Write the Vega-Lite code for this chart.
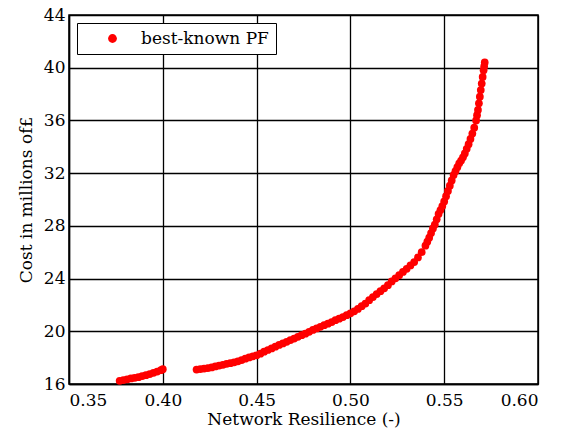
{
  "$schema": "https://vega.github.io/schema/vega-lite/v6.json",
  "width": 469,
  "height": 369,
  "autosize": {"type": "none"},
  "padding": {"left": 69, "top": 15, "right": 29, "bottom": 53},
  "background": "white",
  "config": {
    "font": "DejaVu Serif",
    "view": {"stroke": "black", "strokeWidth": 1.5},
    "axis": {
      "labelFont": "DejaVu Serif",
      "titleFont": "DejaVu Serif",
      "labelFontSize": 17,
      "titleFontSize": 17,
      "titleFontWeight": "normal",
      "labelColor": "black",
      "titleColor": "black",
      "domainColor": "black",
      "domainWidth": 1.5,
      "gridColor": "black",
      "gridWidth": 1.3,
      "gridOpacity": 1,
      "ticks": false
    },
    "legend": {
      "labelFont": "DejaVu Serif",
      "labelFontSize": 17,
      "labelColor": "black"
    }
  },
  "data": {
    "values": [
      {"r": 0.377, "c": 16.24, "s": "best-known PF"},
      {"r": 0.379, "c": 16.30, "s": "best-known PF"},
      {"r": 0.381, "c": 16.36, "s": "best-known PF"},
      {"r": 0.383, "c": 16.42, "s": "best-known PF"},
      {"r": 0.385, "c": 16.47, "s": "best-known PF"},
      {"r": 0.387, "c": 16.52, "s": "best-known PF"},
      {"r": 0.389, "c": 16.60, "s": "best-known PF"},
      {"r": 0.391, "c": 16.67, "s": "best-known PF"},
      {"r": 0.393, "c": 16.75, "s": "best-known PF"},
      {"r": 0.395, "c": 16.85, "s": "best-known PF"},
      {"r": 0.397, "c": 16.94, "s": "best-known PF"},
      {"r": 0.399, "c": 17.05, "s": "best-known PF"},
      {"r": 0.400, "c": 17.12, "s": "best-known PF"},
      {"r": 0.418, "c": 17.10, "s": "best-known PF"},
      {"r": 0.420, "c": 17.13, "s": "best-known PF"},
      {"r": 0.422, "c": 17.17, "s": "best-known PF"},
      {"r": 0.424, "c": 17.21, "s": "best-known PF"},
      {"r": 0.426, "c": 17.26, "s": "best-known PF"},
      {"r": 0.428, "c": 17.33, "s": "best-known PF"},
      {"r": 0.430, "c": 17.40, "s": "best-known PF"},
      {"r": 0.432, "c": 17.46, "s": "best-known PF"},
      {"r": 0.434, "c": 17.53, "s": "best-known PF"},
      {"r": 0.436, "c": 17.58, "s": "best-known PF"},
      {"r": 0.438, "c": 17.65, "s": "best-known PF"},
      {"r": 0.440, "c": 17.72, "s": "best-known PF"},
      {"r": 0.442, "c": 17.82, "s": "best-known PF"},
      {"r": 0.444, "c": 17.92, "s": "best-known PF"},
      {"r": 0.446, "c": 18.02, "s": "best-known PF"},
      {"r": 0.448, "c": 18.10, "s": "best-known PF"},
      {"r": 0.450, "c": 18.18, "s": "best-known PF"},
      {"r": 0.452, "c": 18.30, "s": "best-known PF"},
      {"r": 0.454, "c": 18.45, "s": "best-known PF"},
      {"r": 0.456, "c": 18.58, "s": "best-known PF"},
      {"r": 0.458, "c": 18.70, "s": "best-known PF"},
      {"r": 0.460, "c": 18.83, "s": "best-known PF"},
      {"r": 0.462, "c": 18.96, "s": "best-known PF"},
      {"r": 0.464, "c": 19.08, "s": "best-known PF"},
      {"r": 0.466, "c": 19.20, "s": "best-known PF"},
      {"r": 0.468, "c": 19.33, "s": "best-known PF"},
      {"r": 0.470, "c": 19.45, "s": "best-known PF"},
      {"r": 0.472, "c": 19.58, "s": "best-known PF"},
      {"r": 0.474, "c": 19.70, "s": "best-known PF"},
      {"r": 0.476, "c": 19.82, "s": "best-known PF"},
      {"r": 0.478, "c": 19.96, "s": "best-known PF"},
      {"r": 0.480, "c": 20.10, "s": "best-known PF"},
      {"r": 0.482, "c": 20.22, "s": "best-known PF"},
      {"r": 0.484, "c": 20.34, "s": "best-known PF"},
      {"r": 0.486, "c": 20.46, "s": "best-known PF"},
      {"r": 0.488, "c": 20.58, "s": "best-known PF"},
      {"r": 0.490, "c": 20.70, "s": "best-known PF"},
      {"r": 0.492, "c": 20.84, "s": "best-known PF"},
      {"r": 0.494, "c": 20.96, "s": "best-known PF"},
      {"r": 0.496, "c": 21.08, "s": "best-known PF"},
      {"r": 0.498, "c": 21.22, "s": "best-known PF"},
      {"r": 0.500, "c": 21.36, "s": "best-known PF"},
      {"r": 0.502, "c": 21.52, "s": "best-known PF"},
      {"r": 0.504, "c": 21.70, "s": "best-known PF"},
      {"r": 0.506, "c": 21.90, "s": "best-known PF"},
      {"r": 0.508, "c": 22.10, "s": "best-known PF"},
      {"r": 0.510, "c": 22.36, "s": "best-known PF"},
      {"r": 0.512, "c": 22.60, "s": "best-known PF"},
      {"r": 0.514, "c": 22.82, "s": "best-known PF"},
      {"r": 0.516, "c": 23.04, "s": "best-known PF"},
      {"r": 0.518, "c": 23.26, "s": "best-known PF"},
      {"r": 0.520, "c": 23.50, "s": "best-known PF"},
      {"r": 0.522, "c": 23.78, "s": "best-known PF"},
      {"r": 0.524, "c": 24.02, "s": "best-known PF"},
      {"r": 0.526, "c": 24.26, "s": "best-known PF"},
      {"r": 0.528, "c": 24.50, "s": "best-known PF"},
      {"r": 0.530, "c": 24.74, "s": "best-known PF"},
      {"r": 0.532, "c": 25.00, "s": "best-known PF"},
      {"r": 0.534, "c": 25.25, "s": "best-known PF"},
      {"r": 0.536, "c": 25.60, "s": "best-known PF"},
      {"r": 0.538, "c": 26.00, "s": "best-known PF"},
      {"r": 0.540, "c": 26.50, "s": "best-known PF"},
      {"r": 0.541, "c": 26.80, "s": "best-known PF"},
      {"r": 0.542, "c": 27.10, "s": "best-known PF"},
      {"r": 0.543, "c": 27.45, "s": "best-known PF"},
      {"r": 0.544, "c": 27.80, "s": "best-known PF"},
      {"r": 0.545, "c": 28.10, "s": "best-known PF"},
      {"r": 0.546, "c": 28.50, "s": "best-known PF"},
      {"r": 0.547, "c": 28.90, "s": "best-known PF"},
      {"r": 0.548, "c": 29.20, "s": "best-known PF"},
      {"r": 0.549, "c": 29.50, "s": "best-known PF"},
      {"r": 0.550, "c": 29.85, "s": "best-known PF"},
      {"r": 0.551, "c": 30.25, "s": "best-known PF"},
      {"r": 0.552, "c": 30.65, "s": "best-known PF"},
      {"r": 0.553, "c": 31.05, "s": "best-known PF"},
      {"r": 0.554, "c": 31.45, "s": "best-known PF"},
      {"r": 0.555, "c": 31.85, "s": "best-known PF"},
      {"r": 0.556, "c": 32.15, "s": "best-known PF"},
      {"r": 0.557, "c": 32.45, "s": "best-known PF"},
      {"r": 0.558, "c": 32.75, "s": "best-known PF"},
      {"r": 0.559, "c": 32.95, "s": "best-known PF"},
      {"r": 0.560, "c": 33.20, "s": "best-known PF"},
      {"r": 0.561, "c": 33.50, "s": "best-known PF"},
      {"r": 0.562, "c": 33.85, "s": "best-known PF"},
      {"r": 0.563, "c": 34.20, "s": "best-known PF"},
      {"r": 0.564, "c": 34.60, "s": "best-known PF"},
      {"r": 0.565, "c": 35.00, "s": "best-known PF"},
      {"r": 0.566, "c": 35.45, "s": "best-known PF"},
      {"r": 0.567, "c": 36.00, "s": "best-known PF"},
      {"r": 0.5675, "c": 36.40, "s": "best-known PF"},
      {"r": 0.568, "c": 36.80, "s": "best-known PF"},
      {"r": 0.5685, "c": 37.30, "s": "best-known PF"},
      {"r": 0.569, "c": 37.80, "s": "best-known PF"},
      {"r": 0.5695, "c": 38.30, "s": "best-known PF"},
      {"r": 0.570, "c": 38.80, "s": "best-known PF"},
      {"r": 0.5705, "c": 39.30, "s": "best-known PF"},
      {"r": 0.571, "c": 39.80, "s": "best-known PF"},
      {"r": 0.5713, "c": 40.10, "s": "best-known PF"},
      {"r": 0.5716, "c": 40.40, "s": "best-known PF"}
    ]
  },
  "mark": {"type": "point", "filled": true, "shape": "circle", "size": 60, "opacity": 1},
  "encoding": {
    "x": {
      "field": "r",
      "type": "quantitative",
      "scale": {"domain": [0.35, 0.60], "nice": false, "zero": false},
      "axis": {
        "title": "Network Resilience (-)",
        "values": [0.35, 0.40, 0.45, 0.50, 0.55, 0.60],
        "format": ".2f",
        "labelPadding": 8,
        "titlePadding": 3
      }
    },
    "y": {
      "field": "c",
      "type": "quantitative",
      "scale": {"domain": [16, 44], "nice": false, "zero": false},
      "axis": {
        "title": "Cost in millions of£",
        "values": [16, 20, 24, 28, 32, 36, 40, 44],
        "labelPadding": 4,
        "titlePadding": 8
      }
    },
    "color": {
      "field": "s",
      "type": "nominal",
      "scale": {"range": ["#ff0000"]},
      "legend": {
        "title": null,
        "orient": "top-left",
        "offset": 8,
        "strokeColor": "black",
        "fillColor": "white",
        "padding": 7,
        "symbolType": "circle",
        "symbolSize": 78,
        "symbolOffset": 20,
        "labelOffset": 20,
        "symbolStrokeWidth": 0
      }
    }
  }
}
